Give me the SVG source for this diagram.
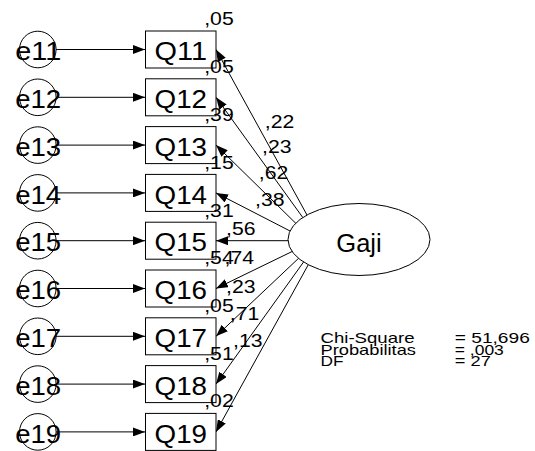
<svg xmlns="http://www.w3.org/2000/svg" width="535" height="451" viewBox="0 0 535 451">
<style>
.bg{fill:#ffffff}
.box{fill:#ffffff;stroke:#000000;stroke-width:1}
.err{fill:none;stroke:#000000;stroke-width:1}
.lat{fill:#ffffff;stroke:#000000;stroke-width:1}
.con{fill:none;stroke:#000000;stroke-width:1;marker-end:url(#ah)}
.big{font-family:"Liberation Sans",Arial,sans-serif;font-size:25.5px;fill:#000000}
.lbl{font-family:"Liberation Sans",Arial,sans-serif;font-size:18px;fill:#000000}
.fit{font-family:"Liberation Sans",Arial,sans-serif;font-size:15px;fill:#000000}
</style>
<defs>
<marker id="ah" markerWidth="12" markerHeight="9" refX="12" refY="4.5" orient="auto" markerUnits="userSpaceOnUse">
<path d="M0,0 L12,4.5 L0,9 z" fill="#000000"/>
</marker>
</defs>
<rect class="bg" x="0" y="0" width="535" height="451"/>
<g id="connectors">
<line class="con" x1="56" y1="49.5" x2="145" y2="49.5"/>
<line class="con" x1="56" y1="97.3" x2="145" y2="97.3"/>
<line class="con" x1="56" y1="145.1" x2="145" y2="145.1"/>
<line class="con" x1="56" y1="192.9" x2="145" y2="192.9"/>
<line class="con" x1="56" y1="240.7" x2="145" y2="240.7"/>
<line class="con" x1="56" y1="288.5" x2="145" y2="288.5"/>
<line class="con" x1="56" y1="336.3" x2="145" y2="336.3"/>
<line class="con" x1="56" y1="384.1" x2="145" y2="384.1"/>
<line class="con" x1="56" y1="431.9" x2="145" y2="431.9"/>
<line class="con" x1="307" y1="215" x2="216" y2="49.5"/>
<line class="con" x1="303.5" y1="218.5" x2="216" y2="97.3"/>
<line class="con" x1="297" y1="224.5" x2="216" y2="145.1"/>
<line class="con" x1="292" y1="232" x2="216" y2="192.9"/>
<line class="con" x1="290" y1="240.7" x2="216" y2="240.7"/>
<line class="con" x1="294.4" y1="250.4" x2="216" y2="288.5"/>
<line class="con" x1="301" y1="256" x2="216" y2="336.3"/>
<line class="con" x1="305" y1="260" x2="216" y2="384.1"/>
<line class="con" x1="309.5" y1="262.5" x2="216" y2="431.9"/>
</g>
<g id="Gaji">
<ellipse class="lat" cx="359" cy="239.5" rx="71" ry="36"/>
<text class="big" x="359" y="251.5" text-anchor="middle" font-size="25">Gaji</text>
</g>
<g id="e11"><circle class="err" cx="37.8" cy="49.5" r="18.3"/><text class="big" x="38.2" y="60.2" text-anchor="middle" textLength="46" lengthAdjust="spacingAndGlyphs">e11</text></g>
<g id="e12"><circle class="err" cx="37.8" cy="97.3" r="18.3"/><text class="big" x="38.2" y="108" text-anchor="middle" textLength="46" lengthAdjust="spacingAndGlyphs">e12</text></g>
<g id="e13"><circle class="err" cx="37.8" cy="145.1" r="18.3"/><text class="big" x="38.2" y="155.8" text-anchor="middle" textLength="46" lengthAdjust="spacingAndGlyphs">e13</text></g>
<g id="e14"><circle class="err" cx="37.8" cy="192.9" r="18.3"/><text class="big" x="38.2" y="203.6" text-anchor="middle" textLength="46" lengthAdjust="spacingAndGlyphs">e14</text></g>
<g id="e15"><circle class="err" cx="37.8" cy="240.7" r="18.3"/><text class="big" x="38.2" y="251.4" text-anchor="middle" textLength="46" lengthAdjust="spacingAndGlyphs">e15</text></g>
<g id="e16"><circle class="err" cx="37.8" cy="288.5" r="18.3"/><text class="big" x="38.2" y="299.2" text-anchor="middle" textLength="46" lengthAdjust="spacingAndGlyphs">e16</text></g>
<g id="e17"><circle class="err" cx="37.8" cy="336.3" r="18.3"/><text class="big" x="38.2" y="347" text-anchor="middle" textLength="46" lengthAdjust="spacingAndGlyphs">e17</text></g>
<g id="e18"><circle class="err" cx="37.8" cy="384.1" r="18.3"/><text class="big" x="38.2" y="394.8" text-anchor="middle" textLength="46" lengthAdjust="spacingAndGlyphs">e18</text></g>
<g id="e19"><circle class="err" cx="37.8" cy="431.9" r="18.3"/><text class="big" x="38.2" y="442.6" text-anchor="middle" textLength="46" lengthAdjust="spacingAndGlyphs">e19</text></g>
<g id="Q11"><rect class="box" x="145.5" y="31" width="70.5" height="37"/><text class="big" x="180.8" y="60.2" text-anchor="middle" textLength="52.5" lengthAdjust="spacingAndGlyphs">Q11</text><text class="lbl" x="204.2" y="25" textLength="29.5" lengthAdjust="spacingAndGlyphs">,05</text></g>
<g id="Q12"><rect class="box" x="145.5" y="78.8" width="70.5" height="37"/><text class="big" x="180.8" y="108" text-anchor="middle" textLength="52.5" lengthAdjust="spacingAndGlyphs">Q12</text><text class="lbl" x="204.2" y="72.5" textLength="29.5" lengthAdjust="spacingAndGlyphs">,05</text></g>
<g id="Q13"><rect class="box" x="145.5" y="126.6" width="70.5" height="37"/><text class="big" x="180.8" y="155.8" text-anchor="middle" textLength="52.5" lengthAdjust="spacingAndGlyphs">Q13</text><text class="lbl" x="204.2" y="121" textLength="29.5" lengthAdjust="spacingAndGlyphs">,39</text></g>
<g id="Q14"><rect class="box" x="145.5" y="174.4" width="70.5" height="37"/><text class="big" x="180.8" y="203.6" text-anchor="middle" textLength="52.5" lengthAdjust="spacingAndGlyphs">Q14</text><text class="lbl" x="204.2" y="168.5" textLength="29.5" lengthAdjust="spacingAndGlyphs">,15</text></g>
<g id="Q15"><rect class="box" x="145.5" y="222.2" width="70.5" height="37"/><text class="big" x="180.8" y="251.4" text-anchor="middle" textLength="52.5" lengthAdjust="spacingAndGlyphs">Q15</text><text class="lbl" x="204.2" y="216.5" textLength="29.5" lengthAdjust="spacingAndGlyphs">,31</text></g>
<g id="Q16"><rect class="box" x="145.5" y="270" width="70.5" height="37"/><text class="big" x="180.8" y="299.2" text-anchor="middle" textLength="52.5" lengthAdjust="spacingAndGlyphs">Q16</text><text class="lbl" x="204.2" y="264" textLength="29.5" lengthAdjust="spacingAndGlyphs">,54</text></g>
<g id="Q17"><rect class="box" x="145.5" y="317.8" width="70.5" height="37"/><text class="big" x="180.8" y="347" text-anchor="middle" textLength="52.5" lengthAdjust="spacingAndGlyphs">Q17</text><text class="lbl" x="204.2" y="312" textLength="29.5" lengthAdjust="spacingAndGlyphs">,05</text></g>
<g id="Q18"><rect class="box" x="145.5" y="365.6" width="70.5" height="37"/><text class="big" x="180.8" y="394.8" text-anchor="middle" textLength="52.5" lengthAdjust="spacingAndGlyphs">Q18</text><text class="lbl" x="204.2" y="360" textLength="29.5" lengthAdjust="spacingAndGlyphs">,51</text></g>
<g id="Q19"><rect class="box" x="145.5" y="413.4" width="70.5" height="37"/><text class="big" x="180.8" y="442.6" text-anchor="middle" textLength="52.5" lengthAdjust="spacingAndGlyphs">Q19</text><text class="lbl" x="204.2" y="407" textLength="29.5" lengthAdjust="spacingAndGlyphs">,02</text></g>
<g id="loadings">
<text class="lbl" x="264.8" y="128" textLength="29.5" lengthAdjust="spacingAndGlyphs">,22</text>
<text class="lbl" x="262.1" y="153" textLength="29.5" lengthAdjust="spacingAndGlyphs">,23</text>
<text class="lbl" x="258.8" y="179" textLength="29.5" lengthAdjust="spacingAndGlyphs">,62</text>
<text class="lbl" x="255.1" y="206" textLength="29.5" lengthAdjust="spacingAndGlyphs">,38</text>
<text class="lbl" x="226.1" y="235" textLength="29.5" lengthAdjust="spacingAndGlyphs">,56</text>
<text class="lbl" x="224.5" y="263.5" textLength="29.5" lengthAdjust="spacingAndGlyphs">,74</text>
<text class="lbl" x="226.1" y="293.3" textLength="29.5" lengthAdjust="spacingAndGlyphs">,23</text>
<text class="lbl" x="229.8" y="320" textLength="29.5" lengthAdjust="spacingAndGlyphs">,71</text>
<text class="lbl" x="233.1" y="346.7" textLength="29.5" lengthAdjust="spacingAndGlyphs">,13</text>
</g>
<g id="fit">
<text class="fit" x="320.5" y="343.3" textLength="94" lengthAdjust="spacingAndGlyphs">Chi-Square</text>
<text class="fit" x="320.5" y="354.5" textLength="95.5" lengthAdjust="spacingAndGlyphs">Probabilitas</text>
<text class="fit" x="320.5" y="365.5" textLength="23" lengthAdjust="spacingAndGlyphs">DF</text>
<text class="fit" x="454.8" y="343.3" textLength="75" lengthAdjust="spacingAndGlyphs">= 51,696</text>
<text class="fit" x="454.8" y="354.5" textLength="49" lengthAdjust="spacingAndGlyphs">= ,003</text>
<text class="fit" x="454.8" y="365.5" textLength="36" lengthAdjust="spacingAndGlyphs">= 27</text>
</g>
</svg>
